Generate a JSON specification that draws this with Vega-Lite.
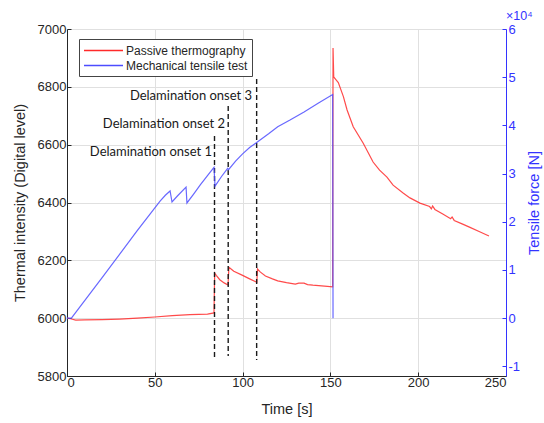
{
  "$schema": "https://vega.github.io/schema/vega-lite/v6.json",
  "width": 439,
  "height": 347,
  "autosize": {"type": "none"},
  "padding": {"left": 67, "top": 29, "right": 38, "bottom": 47},
  "background": "white",
  "title": {"text": "×10⁴", "anchor": "end", "align": "left", "frame": "group", "color": "#3333ff", "fontSize": 12.5, "fontWeight": "normal", "font": "Liberation Sans", "offset": 1},
  "config": {
    "view": {"stroke": null},
    "axis": {
      "labelFont": "Liberation Sans", "labelFontSize": 13, "labelColor": "#262626",
      "titleFont": "Liberation Sans", "titleFontSize": 14.5, "titleFontWeight": "normal", "titleColor": "#262626",
      "domainColor": "#262626", "tickColor": "#262626", "gridColor": "#e0e0e0", "tickSize": -4
    }
  },
  "datasets": {
    "thermal": [
      {"t": 0, "v": 6000, "series": "Passive thermography"},
      {"t": 2, "v": 5998, "series": "Passive thermography"},
      {"t": 5, "v": 5993, "series": "Passive thermography"},
      {"t": 10, "v": 5994, "series": "Passive thermography"},
      {"t": 20, "v": 5995, "series": "Passive thermography"},
      {"t": 30, "v": 5997, "series": "Passive thermography"},
      {"t": 40, "v": 6000, "series": "Passive thermography"},
      {"t": 50, "v": 6004, "series": "Passive thermography"},
      {"t": 60, "v": 6009, "series": "Passive thermography"},
      {"t": 70, "v": 6012, "series": "Passive thermography"},
      {"t": 80, "v": 6014, "series": "Passive thermography"},
      {"t": 83.7, "v": 6018, "series": "Passive thermography"},
      {"t": 84.1, "v": 6156, "series": "Passive thermography"},
      {"t": 85, "v": 6148, "series": "Passive thermography"},
      {"t": 87, "v": 6133, "series": "Passive thermography"},
      {"t": 89.5, "v": 6122, "series": "Passive thermography"},
      {"t": 91.7, "v": 6115, "series": "Passive thermography"},
      {"t": 92.2, "v": 6176, "series": "Passive thermography"},
      {"t": 95, "v": 6162, "series": "Passive thermography"},
      {"t": 100, "v": 6148, "series": "Passive thermography"},
      {"t": 104, "v": 6136, "series": "Passive thermography"},
      {"t": 108.1, "v": 6124, "series": "Passive thermography"},
      {"t": 108.5, "v": 6170, "series": "Passive thermography"},
      {"t": 110, "v": 6160, "series": "Passive thermography"},
      {"t": 113, "v": 6146, "series": "Passive thermography"},
      {"t": 117, "v": 6136, "series": "Passive thermography"},
      {"t": 120, "v": 6129, "series": "Passive thermography"},
      {"t": 125, "v": 6123, "series": "Passive thermography"},
      {"t": 130, "v": 6118, "series": "Passive thermography"},
      {"t": 132, "v": 6121, "series": "Passive thermography"},
      {"t": 135, "v": 6121, "series": "Passive thermography"},
      {"t": 137, "v": 6116, "series": "Passive thermography"},
      {"t": 140, "v": 6114, "series": "Passive thermography"},
      {"t": 145, "v": 6112, "series": "Passive thermography"},
      {"t": 151.3, "v": 6108, "series": "Passive thermography"},
      {"t": 151.5, "v": 6934, "series": "Passive thermography"},
      {"t": 151.9, "v": 6834, "series": "Passive thermography"},
      {"t": 153, "v": 6826, "series": "Passive thermography"},
      {"t": 154.5, "v": 6815, "series": "Passive thermography"},
      {"t": 157.4, "v": 6766, "series": "Passive thermography"},
      {"t": 159.5, "v": 6720, "series": "Passive thermography"},
      {"t": 163, "v": 6662, "series": "Passive thermography"},
      {"t": 168.7, "v": 6605, "series": "Passive thermography"},
      {"t": 174.3, "v": 6540, "series": "Passive thermography"},
      {"t": 178, "v": 6512, "series": "Passive thermography"},
      {"t": 182.2, "v": 6488, "series": "Passive thermography"},
      {"t": 185.7, "v": 6460, "series": "Passive thermography"},
      {"t": 191.4, "v": 6433, "series": "Passive thermography"},
      {"t": 195.3, "v": 6416, "series": "Passive thermography"},
      {"t": 201, "v": 6398, "series": "Passive thermography"},
      {"t": 206.5, "v": 6386, "series": "Passive thermography"},
      {"t": 207.5, "v": 6378, "series": "Passive thermography"},
      {"t": 208.2, "v": 6388, "series": "Passive thermography"},
      {"t": 209.5, "v": 6376, "series": "Passive thermography"},
      {"t": 214, "v": 6360, "series": "Passive thermography"},
      {"t": 218.5, "v": 6344, "series": "Passive thermography"},
      {"t": 219.3, "v": 6350, "series": "Passive thermography"},
      {"t": 220.5, "v": 6338, "series": "Passive thermography"},
      {"t": 225, "v": 6326, "series": "Passive thermography"},
      {"t": 229.5, "v": 6314, "series": "Passive thermography"},
      {"t": 235, "v": 6299, "series": "Passive thermography"},
      {"t": 240.3, "v": 6284, "series": "Passive thermography"}
    ],
    "force": [
      {"t": 0, "F": 0, "series": "Mechanical tensile test"},
      {"t": 2.5, "F": 0, "series": "Mechanical tensile test"},
      {"t": 20, "F": 8400, "series": "Mechanical tensile test"},
      {"t": 40, "F": 18150, "series": "Mechanical tensile test"},
      {"t": 53, "F": 24300, "series": "Mechanical tensile test"},
      {"t": 56, "F": 25500, "series": "Mechanical tensile test"},
      {"t": 58.7, "F": 26400, "series": "Mechanical tensile test"},
      {"t": 59.8, "F": 24100, "series": "Mechanical tensile test"},
      {"t": 63, "F": 25400, "series": "Mechanical tensile test"},
      {"t": 67.8, "F": 27200, "series": "Mechanical tensile test"},
      {"t": 68.3, "F": 23900, "series": "Mechanical tensile test"},
      {"t": 72, "F": 25700, "series": "Mechanical tensile test"},
      {"t": 76, "F": 27700, "series": "Mechanical tensile test"},
      {"t": 80, "F": 29600, "series": "Mechanical tensile test"},
      {"t": 83.7, "F": 31300, "series": "Mechanical tensile test"},
      {"t": 84.3, "F": 27400, "series": "Mechanical tensile test"},
      {"t": 88, "F": 29400, "series": "Mechanical tensile test"},
      {"t": 91.5, "F": 31100, "series": "Mechanical tensile test"},
      {"t": 92, "F": 30800, "series": "Mechanical tensile test"},
      {"t": 96, "F": 32600, "series": "Mechanical tensile test"},
      {"t": 100, "F": 34100, "series": "Mechanical tensile test"},
      {"t": 104, "F": 35400, "series": "Mechanical tensile test"},
      {"t": 108.2, "F": 36500, "series": "Mechanical tensile test"},
      {"t": 115, "F": 38300, "series": "Mechanical tensile test"},
      {"t": 120, "F": 39700, "series": "Mechanical tensile test"},
      {"t": 127, "F": 41100, "series": "Mechanical tensile test"},
      {"t": 135, "F": 42800, "series": "Mechanical tensile test"},
      {"t": 143, "F": 44600, "series": "Mechanical tensile test"},
      {"t": 151.3, "F": 46400, "series": "Mechanical tensile test"},
      {"t": 151.5, "F": 0, "series": "Mechanical tensile test"}
    ],
    "onsets": [
      {"t": 84, "top": 6630, "bottom": 5855, "ty": 6575, "tx": 82.6, "label": "Delamination onset 1"},
      {"t": 91.8, "top": 6734, "bottom": 5869, "ty": 6671, "tx": 90, "label": "Delamination onset 2"},
      {"t": 108, "top": 6827, "bottom": 5855, "ty": 6768, "tx": 105.4, "label": "Delamination onset 3"}
    ]
  },
  "layer": [
    {
      "layer": [
        {
          "data": {"name": "thermal"},
          "mark": {"type": "line", "strokeWidth": 1.2, "strokeOpacity": 0.85},
          "encoding": {
            "x": {"field": "t", "type": "quantitative", "scale": {"domain": [0, 250], "nice": false},
                  "axis": {"title": "Time [s]", "values": [0, 50, 100, 150, 200, 250], "grid": true, "labelPadding": 4, "titlePadding": 13}},
            "y": {"field": "v", "type": "quantitative", "scale": {"domain": [5800, 7000], "nice": false, "zero": false},
                  "axis": {"title": "Thermal intensity (Digital level)", "orient": "left", "values": [5800, 6000, 6200, 6400, 6600, 6800, 7000], "grid": true, "format": "d", "labelPadding": 5, "titlePadding": 10}},
            "color": {"field": "series", "type": "nominal",
                      "scale": {"domain": ["Passive thermography", "Mechanical tensile test"], "range": ["#ff2a2a", "#4d4dff"]},
                      "legend": {"title": null, "orient": "none", "legendX": 12, "legendY": 10, "symbolType": "M-3,0H3", "symbolSize": 169, "symbolStrokeWidth": 1.3, "symbolOffset": 13,
                                 "labelFont": "Liberation Sans", "labelFontSize": 12, "labelColor": "#262626", "fillColor": "white", "strokeColor": "#444", "padding": 4, "rowPadding": 1, "labelOffset": 15}},
            "order": {"field": "t", "type": "quantitative"}
          }
        },
        {
          "data": {"name": "onsets"},
          "mark": {"type": "rule", "color": "#1a1a1a", "strokeWidth": 1.4, "strokeDash": [5, 3]},
          "encoding": {
            "x": {"field": "t", "type": "quantitative", "axis": {"title": "Time [s]"}},
            "y": {"field": "top", "type": "quantitative", "axis": {"title": "Thermal intensity (Digital level)"}},
            "y2": {"field": "bottom"}
          }
        },
        {
          "data": {"name": "onsets"},
          "mark": {"type": "text", "align": "right", "baseline": "middle", "font": "Lato", "fontSize": 13, "color": "#1a1a1a"},
          "encoding": {
            "x": {"field": "tx", "type": "quantitative", "axis": {"title": "Time [s]"}},
            "y": {"field": "ty", "type": "quantitative", "axis": {"title": "Thermal intensity (Digital level)"}},
            "text": {"field": "label"}
          }
        }
      ]
    },
    {
      "data": {"name": "force"},
      "mark": {"type": "line", "strokeWidth": 1.2, "strokeOpacity": 0.85},
      "encoding": {
        "x": {"field": "t", "type": "quantitative", "axis": {"title": "Time [s]"}},
        "y": {"field": "F", "type": "quantitative", "scale": {"domain": [-12000, 60000], "nice": false},
              "axis": {"title": "Tensile force [N]", "orient": "right", "values": [-10000, 0, 10000, 20000, 30000, 40000, 50000, 60000],
                       "labelExpr": "datum.value / 10000", "grid": false, "labelColor": "#3333ff", "domainColor": "#3333ff", "tickColor": "#3333ff",
                       "titleColor": "#3333ff", "titleAngle": 270, "labelPadding": 6, "titlePadding": 22}},
        "color": {"field": "series", "type": "nominal"},
        "order": {"field": "t", "type": "quantitative"}
      }
    }
  ],
  "resolve": {"scale": {"y": "independent"}}
}
